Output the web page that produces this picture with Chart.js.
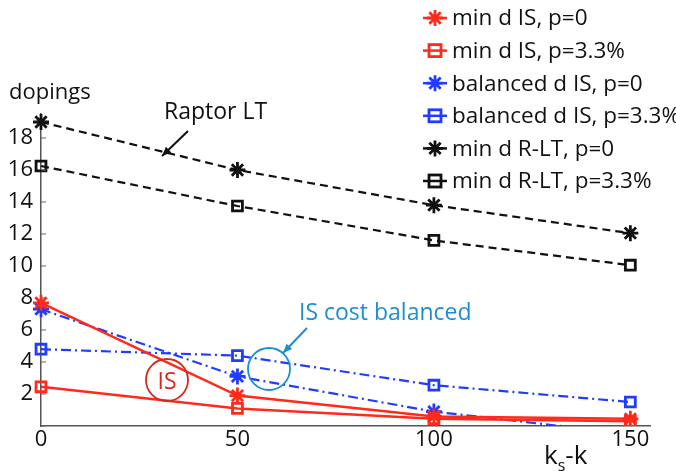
<!DOCTYPE html>
<html>
<head>
<meta charset="utf-8">
<script src="https://cdn.jsdelivr.net/npm/chart.js@4.4.1/dist/chart.umd.min.js"></script>
<style>
  html, body { margin: 0; padding: 0; background: #fff; }
  #wrap { width: 676px; height: 471px; position: relative; }
</style>
</head>
<body>
<div id="wrap"><canvas id="grafica" width="676" height="471"></canvas></div>
<script>
const ksk = [0, 50, 100, 150];
const xTicks = [0, 50, 100, 150];
const yTicks = [0, 2, 4, 6, 8, 10, 12, 14, 16, 18];

const minIS_p0 = [7.7, 1.9, 0.6, 0.45];
const minIS_p33 = [2.45, 1.1, 0.45, 0.3];
const balIS_p0 = [7.3, 3.1, 0.9, -0.5];
const balIS_p33 = [4.8, 4.4, 2.55, 1.5];
const minRLT_p0 = [19.0, 16.0, 13.8, 12.05];
const minRLT_p33 = [16.25, 13.75, 11.6, 10.05];

const RED = '#ff2a1a';
const BLUE = '#1f3cff';
const BLACK = '#111111';
const CYAN = '#1b8fd0';
const FONT = '"Open Sans", "DejaVu Sans", sans-serif';

function pts(vals) {
    return vals.map((v, i) => ({ x: ksk[i], y: v }));
}

const clipBottom = { left: false, top: false, right: false, bottom: 0 };

function series(label, vals, color, style, dash, width) {
    return {
        label: label,
        data: pts(vals),
        borderColor: color,
        backgroundColor: 'rgba(0,0,0,0)',
        borderWidth: width,
        borderDash: dash,
        pointStyle: style,
        pointRadius: style === 'star' ? 8 : 7,
        pointBorderWidth: 2.8,
        pointBorderColor: color,
        pointBackgroundColor: 'rgba(0,0,0,0)',
        fill: false,
        tension: 0,
        clip: clipBottom
    };
}

const dataset1 = series('min d IS, p=0', minIS_p0, RED, 'star', [], 2.5);
const dataset2 = series('min d IS, p=3.3%', minIS_p33, RED, 'rect', [], 2.5);
const dataset3 = series('balanced d IS, p=0', balIS_p0, BLUE, 'star', [10, 4, 2, 4], 2.2);
const dataset4 = series('balanced d IS, p=3.3%', balIS_p33, BLUE, 'rect', [10, 4, 2, 4], 2.2);
const dataset5 = series('min d R-LT, p=0', minRLT_p0, BLACK, 'star', [8, 5], 2.2);
const dataset6 = series('min d R-LT, p=3.3%', minRLT_p33, BLACK, 'rect', [8, 5], 2.2);

const datasets = [dataset1, dataset2, dataset3, dataset4, dataset5, dataset6];

function drawStar(ctx, x, y, r) {
    ctx.beginPath();
    for (let k = 0; k < 4; k++) {
        const a = k * Math.PI / 4;
        ctx.moveTo(x - r * Math.cos(a), y - r * Math.sin(a));
        ctx.lineTo(x + r * Math.cos(a), y + r * Math.sin(a));
    }
    ctx.stroke();
}

function arrow(ctx, x1, y1, x2, y2, color) {
    ctx.save();
    ctx.strokeStyle = color;
    ctx.fillStyle = color;
    ctx.lineWidth = 2;
    ctx.beginPath();
    ctx.moveTo(x1, y1);
    ctx.lineTo(x2, y2);
    ctx.stroke();
    const a = Math.atan2(y2 - y1, x2 - x1);
    ctx.beginPath();
    ctx.moveTo(x2, y2);
    ctx.lineTo(x2 - 10 * Math.cos(a - 0.4), y2 - 10 * Math.sin(a - 0.4));
    ctx.lineTo(x2 - 10 * Math.cos(a + 0.4), y2 - 10 * Math.sin(a + 0.4));
    ctx.closePath();
    ctx.fill();
    ctx.restore();
}

const extras = {
    id: 'extras',
    afterDraw(chart) {
        const ctx = chart.ctx;
        const xs = chart.scales.x, ys = chart.scales.y;
        ctx.save();
        // small inner ticks on y axis
        ctx.strokeStyle = '#666';
        ctx.lineWidth = 1;
        yTicks.forEach(v => {
            const py = ys.getPixelForValue(v);
            ctx.beginPath();
            ctx.moveTo(xs.left, py);
            ctx.lineTo(xs.left + 5, py);
            ctx.stroke();
        });

        // axis titles
        ctx.fillStyle = '#111';
        ctx.textBaseline = 'middle';
        ctx.textAlign = 'left';
        ctx.font = '22px ' + FONT;
        ctx.fillText('dopings', 9, 93);
        ctx.font = '26px ' + FONT;
        ctx.fillText('k', 544, 457);
        let w = ctx.measureText('k').width;
        ctx.font = '16px ' + FONT;
        ctx.fillText('s', 544 + w, 466);
        const ws = ctx.measureText('s').width;
        ctx.font = '26px ' + FONT;
        ctx.fillText('-k', 544 + w + ws, 457);

        // annotations
        ctx.font = '23px ' + FONT;
        ctx.fillText('Raptor LT', 164, 112);
        arrow(ctx, 188, 131, 162, 156, '#111');

        ctx.fillStyle = CYAN;
        ctx.fillText('IS cost balanced', 299, 313);
        arrow(ctx, 307, 328, 283, 353, CYAN);
        ctx.strokeStyle = CYAN;
        ctx.lineWidth = 1.8;
        ctx.beginPath();
        ctx.arc(269, 369, 21, 0, 2 * Math.PI);
        ctx.stroke();

        ctx.strokeStyle = '#d42a1e';
        ctx.beginPath();
        ctx.arc(167, 380, 21, 0, 2 * Math.PI);
        ctx.stroke();
        ctx.fillStyle = '#d42a1e';
        ctx.textAlign = 'center';
        ctx.fillText('IS', 167, 382);

        // legend
        ctx.textAlign = 'left';
        ctx.font = '22.5px ' + FONT;
        datasets.forEach((d, i) => {
            const cy = 18 + i * 32.6;
            ctx.strokeStyle = d.borderColor;
            ctx.lineWidth = 2.5;
            ctx.setLineDash([]);
            ctx.beginPath();
            ctx.moveTo(423, cy);
            ctx.lineTo(447, cy);
            ctx.stroke();
            ctx.lineWidth = 2.8;
            if (d.pointStyle === 'star') {
                drawStar(ctx, 435, cy, 8);
            } else {
                ctx.strokeRect(429, cy - 6, 12, 12);
            }
            ctx.fillStyle = '#111';
            ctx.fillText(d.label, 452, cy + 1);
        });
        ctx.restore();
    }
};

const graph = document.querySelector('#grafica');

const config = {
    type: 'line',
    data: { datasets: datasets },
    options: {
        responsive: false,
        animation: false,
        layout: { padding: { top: 114, right: 26, left: 0, bottom: 0 } },
        plugins: { legend: { display: false }, tooltip: { enabled: false } },
        scales: {
            x: {
                type: 'linear',
                min: 0,
                max: 155,
                afterBuildTicks: s => { s.ticks = xTicks.map(v => ({ value: v })); },
                afterFit: s => { s.height = 45; },
                grid: { display: false, drawTicks: false },
                border: { display: true, color: '#555', width: 1.5 },
                ticks: { color: '#111', font: { family: FONT, size: 22 }, padding: 1 }
            },
            y: {
                type: 'linear',
                min: 0,
                max: 19.5,
                afterBuildTicks: s => { s.ticks = yTicks.map(v => ({ value: v })); },
                afterFit: s => { s.width = 41; },
                grid: { display: false, drawTicks: false },
                border: { display: true, color: '#555', width: 1.5 },
                ticks: {
                    color: '#111',
                    font: { family: FONT, size: 22 },
                    padding: 8,
                    callback: v => (v === 0 ? '' : String(v))
                }
            }
        }
    },
    plugins: [extras]
};

new Chart(graph, config);
</script>
</body>
</html>
